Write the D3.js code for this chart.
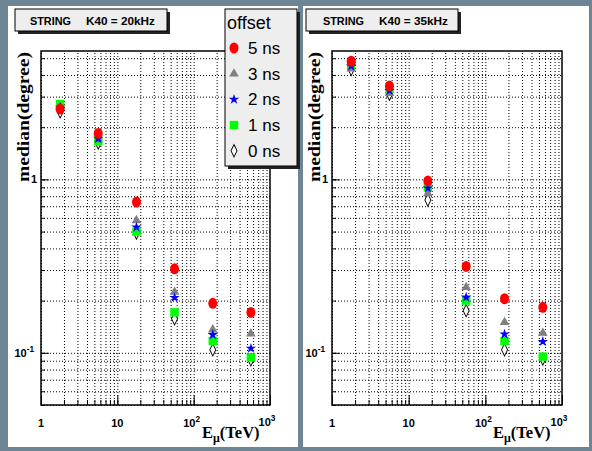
<!DOCTYPE html>
<html lang="en">
<head>
<meta charset="UTF-8">
<title>STRING median vs E_mu</title>
<script src="https://d3js.org/d3.v7.min.js"></script>
<style>
    body { margin: 0; padding: 0; background: #6e8596; }
    svg { display: block; }
    .tick-label { font-family: "Liberation Sans", Arial, sans-serif; font-weight: bold; font-size: 11px; }
    .axis-title { font-family: "Liberation Serif", "Times New Roman", serif; font-weight: bold; }
    .grid line { stroke: #000; stroke-width: 1; stroke-dasharray: 1, 2; }
    .grid path, .ticks path { display: none; }
    .ticks line { stroke: #000; stroke-width: 1; }
</style>
</head>
<body>
<svg id="chart"></svg>
<script>
// muon energies (TeV), one per bin
const energies = [1.78, 5.62, 17.8, 56.2, 178, 562];
const offsetNames = ["5 ns", "3 ns", "2 ns", "1 ns", "0 ns"];

// K40 = 20kHz
const k20_5ns = [2.55, 1.84, 0.74, 0.305, 0.193, 0.171];
const k20_3ns = [2.62, 1.70, 0.58, 0.224, 0.136, 0.129];
const k20_2ns = [2.60, 1.72, 0.53, 0.208, 0.127, 0.106];
const k20_1ns = [2.72, 1.66, 0.50, 0.171, 0.117, 0.094];
const k20_0ns = [2.45, 1.62, 0.49, 0.157, 0.104, 0.091];

// K40 = 35kHz
const k35_5ns = [4.80, 3.45, 0.98, 0.315, 0.205, 0.183];
const k35_3ns = [4.35, 3.14, 0.83, 0.239, 0.150, 0.130];
const k35_2ns = [4.50, 3.25, 0.89, 0.209, 0.128, 0.116];
const k35_1ns = [4.55, 3.30, 0.90, 0.200, 0.117, 0.095];
const k35_0ns = [4.30, 3.10, 0.76, 0.175, 0.104, 0.092];

const titles = ["STRING", "K40 = 20kHz", "K40 = 35kHz"];
const xTickValues = [1, 10, 100, 1000];
const xTickText = ["1", "10", "10^2", "10^3"];
const yTickValues = [0.1, 1];
const yTickText = ["10^-1", "1"];

const width = 592, height = 451;
const svg = d3.select("#chart").attr("width", width).attr("height", height);

svg.append("rect").attr("width", width).attr("height", height).attr("fill", "#6e8596");

const styles = {
    "5 ns": { shape: "circle", color: "#ff0000" },
    "3 ns": { shape: d3.symbolTriangle, size: 40, color: "#808080" },
    "2 ns": { shape: d3.symbolStar, size: 34, color: "#0000ff" },
    "1 ns": { shape: d3.symbolSquare, size: 72, color: "#00ff00" },
    "0 ns": { shape: d3.symbolDiamond, size: 26, color: "#fff", stroke: "#000" }
};

function marker(g, name, x, y) {
    const s = styles[name];
    if (s.shape === "circle") {
        return g.append("ellipse").attr("cx", x).attr("cy", y)
            .attr("rx", 4.5).attr("ry", 5.5).attr("fill", s.color);
    }
    return g.append("path")
        .attr("d", d3.symbol().type(s.shape).size(s.size)())
        .attr("transform", `translate(${x},${y})` + (s.shape === d3.symbolDiamond ? " scale(1.1,1.3)" : ""))
        .attr("fill", s.color)
        .attr("stroke", s.stroke || "none")
        .attr("stroke-width", s.stroke ? 0.8 : 0);
}

function supText(sel, str, fontSize) {
    const parts = str.split("^");
    sel.append("tspan").text(parts[0]);
    if (parts[1]) {
        sel.append("tspan").attr("dy", -5).attr("font-size", fontSize * 0.75).text(parts[1]);
    }
}

// range lists for gridlines / minor ticks
function logSteps(lo, hi) {
    const out = [];
    for (let dec = Math.pow(10, Math.floor(Math.log10(lo))); dec < hi; dec *= 10) {
        for (let k = 1; k <= 9; k++) {
            const v = +(k * dec).toPrecision(3);
            if (v >= lo - 1e-9 && v <= hi + 1e-9) out.push(v);
        }
    }
    return out;
}

function drawPanel(p) {
    const g = svg.append("g");
    g.append("rect").attr("x", p.px).attr("y", 6).attr("width", p.pw).attr("height", 441).attr("fill", "#fff");

    const x = d3.scaleLog().domain([1, 1000]).range([p.left, p.right]);
    const y = d3.scaleLog().domain([0.05, 5.5]).range([405, 51]);
    const h = 405 - 51, w = p.right - p.left;

    const xMinor = logSteps(1, 1000);
    const yMinor = logSteps(0.05, 5.5);

    g.append("g").attr("class", "grid").attr("transform", "translate(0,405)")
        .call(d3.axisBottom(x).tickValues(xMinor).tickSize(-h).tickFormat(""));
    g.append("g").attr("class", "grid").attr("transform", `translate(${p.left},0)`)
        .call(d3.axisLeft(y).tickValues(yMinor).tickSize(-w).tickFormat(""));

    // inward ticks
    g.append("g").attr("class", "ticks").attr("transform", "translate(0,405)")
        .call(d3.axisBottom(x).tickValues(xMinor).tickSize(-5).tickFormat(""));
    g.append("g").attr("class", "ticks").attr("transform", "translate(0,405)")
        .call(d3.axisBottom(x).tickValues(xTickValues).tickSize(-10).tickFormat(""));
    g.append("g").attr("class", "ticks").attr("transform", `translate(${p.left},0)`)
        .call(d3.axisLeft(y).tickValues(yMinor).tickSize(-4).tickFormat(""));
    g.append("g").attr("class", "ticks").attr("transform", `translate(${p.left},0)`)
        .call(d3.axisLeft(y).tickValues(yTickValues).tickSize(-8).tickFormat(""));

    g.append("rect").attr("x", p.left).attr("y", 51).attr("width", w).attr("height", h)
        .attr("fill", "none").attr("stroke", "#000").attr("stroke-width", 1.5);

    // tick labels
    xTickValues.forEach((v, i) => {
        const t = g.append("text").attr("class", "tick-label")
            .attr("x", x(v) + (i === 3 ? -3 : (i === 2 ? -2 : 0))).attr("y", i === 3 ? 426 : 427)
            .attr("text-anchor", "middle");
        supText(t, xTickText[i], 11);
    });
    yTickValues.forEach((v, i) => {
        const t = g.append("text").attr("class", "tick-label")
            .attr("x", p.left - (i === 0 ? 7 : 4)).attr("y", y(v) + 4)
            .attr("text-anchor", "end");
        supText(t, yTickText[i], 11);
    });

    // axis titles
    const xt = g.append("text").attr("class", "axis-title")
        .attr("x", p.left + 161).attr("y", 438).attr("font-size", 16.5);
    xt.append("tspan").text("E");
    xt.append("tspan").attr("dy", 4).attr("font-size", 12).text("\u03bc");
    xt.append("tspan").attr("dy", -4).text("(TeV)");

    g.append("text").attr("class", "axis-title")
        .attr("transform", `translate(${p.left - 12},117) rotate(-90)`)
        .attr("text-anchor", "middle").attr("font-size", 17)
        .attr("textLength", 130).attr("lengthAdjust", "spacingAndGlyphs")
        .text("median(degree)");

    // points, drawn back to front
    ["0 ns", "1 ns", "3 ns", "2 ns", "5 ns"].forEach(name => {
        const vals = p.series[offsetNames.indexOf(name)];
        vals.forEach((v, i) => marker(g, name, x(energies[i]), y(v)));
    });

    // title box
    const tb = g.append("g");
    tb.append("rect").attr("x", p.left - 23).attr("y", 12).attr("width", 152).attr("height", 22).attr("fill", "#222");
    tb.append("rect").attr("x", p.left - 26).attr("y", 9).attr("width", 152).attr("height", 22)
        .attr("fill", "#eeeeee").attr("stroke", "#000").attr("stroke-width", 1);
    tb.append("text").attr("class", "tick-label").attr("font-size", 14.5)
        .attr("x", p.left - 11 + p.dt).attr("y", 25)
        .attr("textLength", 41).attr("lengthAdjust", "spacingAndGlyphs").text(titles[0]);
    tb.append("text").attr("class", "tick-label").attr("font-size", 14.5)
        .attr("x", p.left + 45 + p.dt).attr("y", 25)
        .attr("textLength", 69).attr("lengthAdjust", "spacingAndGlyphs").text(p.title);
    return g;
}

drawPanel({ px: 8, pw: 290, left: 41, right: 270, dt: 0, title: titles[1],
    series: [k20_5ns, k20_3ns, k20_2ns, k20_1ns, k20_0ns] });
drawPanel({ px: 303, pw: 286, left: 332, right: 562, dt: 2, title: titles[2],
    series: [k35_5ns, k35_3ns, k35_2ns, k35_1ns, k35_0ns] });

// legend (left panel)
const lg = svg.append("g");
lg.append("rect").attr("x", 228).attr("y", 12).attr("width", 72).attr("height", 157).attr("fill", "#222");
lg.append("rect").attr("x", 225).attr("y", 9).attr("width", 72).attr("height", 157)
    .attr("fill", "#eeeeee").attr("stroke", "#000").attr("stroke-width", 1);
lg.append("text").attr("x", 227).attr("y", 29)
    .attr("font-family", "'Liberation Sans', Arial, sans-serif").attr("font-size", 18).text("offset");
offsetNames.forEach((name, i) => {
    const base = 54 + i * 25.7;
    marker(lg, name, 234, base - 6);
    lg.append("text").attr("x", 248).attr("y", base)
        .attr("font-family", "'Liberation Sans', Arial, sans-serif").attr("font-size", 17).text(name);
});
</script>
</body>
</html>
